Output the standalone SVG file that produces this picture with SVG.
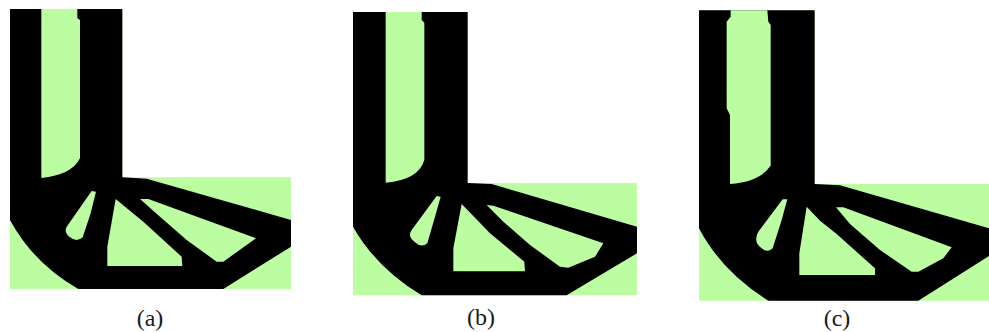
<svg xmlns="http://www.w3.org/2000/svg" width="989" height="332" viewBox="0 0 989 332">
<defs><filter id="soft" x="-2%" y="-2%" width="104%" height="104%"><feGaussianBlur stdDeviation="1.4"/></filter></defs>
<style>
.p{filter:url(#soft)}
.g{fill:#bcfda2}
.k{fill:#000}
.t{font-family:"Liberation Serif","Times New Roman",serif;font-size:24px;fill:#1a1a1a;text-anchor:middle}
</style>
<rect width="989" height="332" fill="#fff"/>
<g id="panel-a" transform="scale(0.33333)">
<path class="g" d="M30 27H367V532H873V867H30Z"/>
<g class="p">
<path class="k" d="M30 27H367V532L440 536L873 660V740L670 867H235Q100 790 30 660Z"/>
<path class="g" d="M124 27H232V55L240 60V475Q215 525 124 534Z"/>
<path class="g" d="M275 573L288 575L272 640L248 712Q230 728 210 712Q190 695 200 680Z"/>
<path class="g" d="M347 597L322 740V798H547L545 770L430 665Z"/>
<path class="g" d="M420 597H445L768 715L670 785H650L560 720L480 650Z"/>
</g>
</g>
<g id="panel-b" transform="translate(340 0) scale(0.33333)">
<path class="g" d="M39 36H383V549H891V886H39Z"/>
<g class="p">
<path class="k" d="M39 36H383V549L455 552L891 680V760L680 886H245Q110 805 39 680Z"/>
<path class="g" d="M137 36H245V60L253 68V480Q235 540 137 548Z"/>
<path class="g" d="M290 588L302 590L285 650L262 730Q245 745 225 727Q200 710 215 690Z"/>
<path class="g" d="M365 612L340 745V814H555L553 785L450 700Z"/>
<path class="g" d="M440 615L460 617L790 730L765 770L685 803L660 800L570 735L490 665Z"/>
</g>
</g>
<g id="panel-c" transform="translate(680 0) scale(0.33333)">
<path class="g" d="M57 31H404V552H927V902H57Z"/>
<g class="p">
<path class="k" d="M57 31H404V552L480 556L927 685V768L715 902H265Q125 815 57 685Z"/>
<path class="g" d="M152 31H262L265 65L272 75V497Q240 545 150 552V345L140 325V65L152 50Z"/>
<path class="g" d="M308 598L322 598L305 660L278 745Q262 760 245 745Q218 725 235 695Z"/>
<path class="g" d="M380 620L358 760V825H585V805L470 702L420 662Z"/>
<path class="g" d="M468 622H490L815 742L790 775L715 815H695L600 750L510 672Z"/>
</g>
</g>
<text class="t" x="150" y="326">(a)</text>
<text class="t" x="481" y="325">(b)</text>
<text class="t" x="837" y="326">(c)</text>
</svg>
